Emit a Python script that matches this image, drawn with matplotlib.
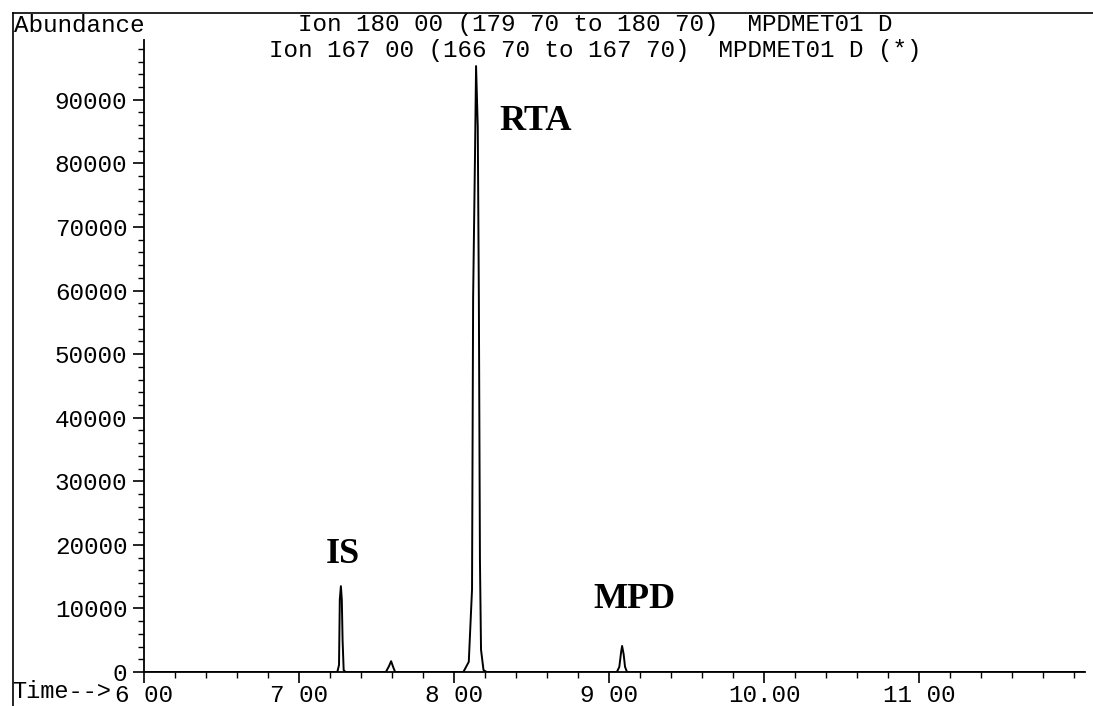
import matplotlib
matplotlib.use("Agg")
import matplotlib.pyplot as plt
from matplotlib.ticker import MultipleLocator, FixedLocator, FixedFormatter
from matplotlib.lines import Line2D

# chromatogram trace, time in min, abundance in counts
time = [6.00, 6.40, 6.80, 7.10, 7.247, 7.258, 7.263, 7.270, 7.276, 7.281, 7.288, 7.300,
        7.40, 7.560, 7.580, 7.594, 7.607, 7.620, 7.80, 8.00, 8.060, 8.095, 8.116,
        8.123, 8.135, 8.142, 8.153, 8.160, 8.167, 8.174, 8.190, 8.210, 8.50, 8.80,
        9.050, 9.066, 9.078, 9.084, 9.094, 9.103, 9.116, 9.40, 9.80, 10.40, 11.00,
        11.60, 12.08]
abundance = [0, 0, 0, 0, 0, 1100, 11400, 13500, 11400, 5000, 300, 0,
             0, 0, 900, 1700, 800, 0, 0, 0, 0, 1600, 13000,
             58800, 81000, 95300, 85700, 58800, 17700, 3500, 300, 0, 0, 0,
             0, 800, 3200, 4100, 2800, 800, 0, 0, 0, 0, 0,
             0, 0]

peak_names = ["IS", "RTA", "MPD"]
peak_label_x = [7.17, 8.29, 8.90]
peak_label_y = [17100, 85200, 10100]

x_major = [6, 7, 8, 9, 10, 11]
x_labels = ["6 00", "7 00", "8 00", "9 00", "10.00", "11 00"]
y_major = [0, 10000, 20000, 30000, 40000, 50000, 60000, 70000, 80000, 90000]

header1 = "Ion 180 00 (179 70 to 180 70)  MPDMET01 D"
header2 = "Ion 167 00 (166 70 to 167 70)  MPDMET01 D (*)"

mono = "Liberation Mono"
fsize = 17.5

fig = plt.figure(figsize=(10.93, 7.06), dpi=100)
ax = fig.add_axes([144/1093, 34/706, (1085-144)/1093, (672-40)/706])

ax.plot(time, abundance, color="black", lw=1.4)

ax.set_xlim(6.0, 12.07)
ax.set_ylim(0, 99400)

ax.xaxis.set_major_locator(FixedLocator(x_major))
ax.xaxis.set_major_formatter(FixedFormatter(x_labels))
ax.xaxis.set_minor_locator(MultipleLocator(0.2))
ax.yaxis.set_major_locator(FixedLocator(y_major))
ax.yaxis.set_minor_locator(MultipleLocator(2000))

ax.tick_params(axis="both", which="major", direction="out", length=8, width=1.2,
               labelsize=fsize, color="black")
ax.tick_params(axis="both", which="minor", direction="out", length=4, width=1.0)
ax.tick_params(axis="x", pad=0.5)
ax.tick_params(axis="y", pad=4)
for lab in ax.get_xticklabels() + ax.get_yticklabels():
    lab.set_family(mono)

for side in ["top", "right"]:
    ax.spines[side].set_visible(False)
ax.spines["left"].set_linewidth(1.3)
ax.spines["bottom"].set_linewidth(1.3)

for name, px, py in zip(peak_names, peak_label_x, peak_label_y):
    ax.text(px, py, name, family="Liberation Serif", weight="bold", fontsize=26,
            ha="left", va="baseline")

# outer frame of the printout
fig.add_artist(Line2D([13/1093, 1.0], [1 - 13/706, 1 - 13/706], color="black", lw=1.2))
fig.add_artist(Line2D([13/1093, 13/1093], [0, 1 - 13/706], color="black", lw=1.2))

fig.text(14/1093, 1 - 25/706, "Abundance", family=mono, fontsize=fsize, ha="left", va="center")
fig.text(595/1093, 1 - 25/706, header1, family=mono, fontsize=fsize, ha="center", va="center")
fig.text(595/1093, 1 - 50/706, header2, family=mono, fontsize=fsize, ha="center", va="center")
fig.text(111/1093, 1 - 692/706, "Time-->", family=mono, fontsize=17, ha="right", va="center")

plt.savefig("out.png", dpi=100)
